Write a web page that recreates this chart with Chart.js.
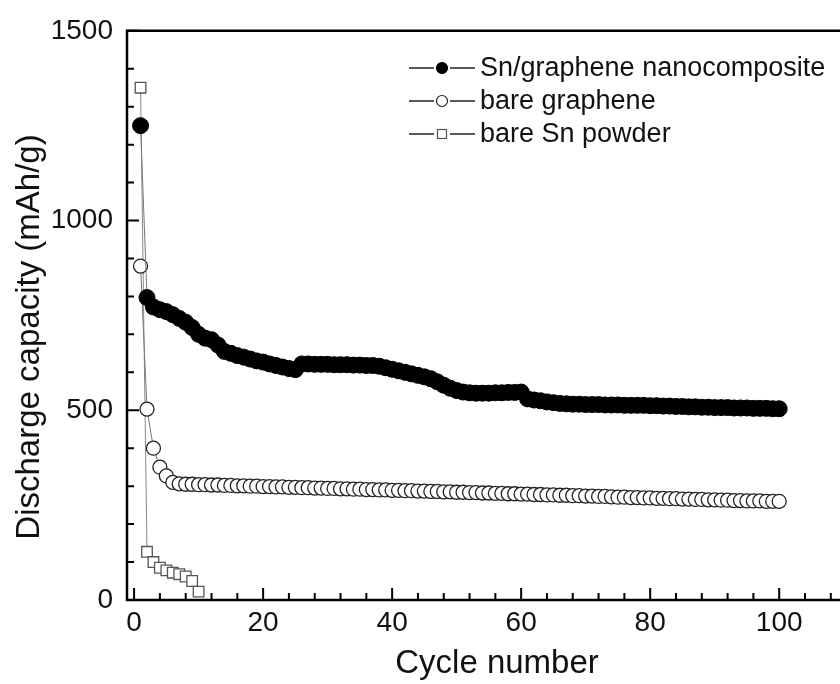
<!DOCTYPE html>
<html>
<head>
<meta charset="utf-8">
<script src="https://cdn.jsdelivr.net/npm/chart.js@4.4.1/dist/chart.umd.min.js"></script>
<style>
  html, body { margin: 0; padding: 0; background: #fff; overflow: hidden; width: 840px; height: 684px; }
  canvas { display: block; }
</style>
</head>
<body>
<canvas id="c" width="880" height="684"></canvas>
<script>
// ---------------- data ----------------
const seriesNames = ['Sn/graphene nanocomposite', 'bare graphene', 'bare Sn powder'];
const xAxisTitle = 'Cycle number';
const yAxisTitle = 'Discharge capacity (mAh/g)';

const cycles = [1,2,3,4,5,6,7,8,9,10,11,12,13,14,15,16,17,18,19,20,
  21,22,23,24,25,26,27,28,29,30,31,32,33,34,35,36,37,38,39,40,
  41,42,43,44,45,46,47,48,49,50,51,52,53,54,55,56,57,58,59,60,
  61,62,63,64,65,66,67,68,69,70,71,72,73,74,75,76,77,78,79,80,
  81,82,83,84,85,86,87,88,89,90,91,92,93,94,95,96,97,98,99,100];

const snGrapheneCapacity = [1250,797,772,765,760,752,742,732,718,700,
  690,686,672,655,650,644,640,635,630,627,
  622,618,614,610,607,622,622,621,621,621,
  620,620,620,619,619,618,618,616,612,608,
  604,600,596,592,588,583,575,566,558,552,
  548,546,545,545,545,546,546,547,547,548,
  530,527,525,522,520,518,517,516,516,515,
  515,515,514,514,514,513,513,513,513,512,
  512,511,511,510,510,509,509,508,508,507,
  507,507,506,506,506,505,505,505,504,504];

const bareGrapheneCapacity = [880,503,400,350,327,310,306,305,305,304,
  304,303,303,302,302,301,301,300,300,299,
  299,298,298,297,297,296,296,295,295,294,
  294,293,293,292,292,291,291,290,290,289,
  289,288,288,287,287,286,286,285,285,284,
  284,283,283,282,282,281,281,280,280,279,
  279,278,278,277,277,276,276,275,275,274,
  274,273,273,272,271,271,270,270,269,269,
  268,268,267,267,266,266,265,265,264,264,
  263,263,262,262,261,261,261,260,260,260];

const snPowderCycles = [1,2,3,4,5,6,7,8,9,10];
const snPowderCapacity = [1350,127,100,85,78,72,68,62,50,22];

const xTickValues = [0,20,40,60,80,100];
const yTickValues = [0,500,1000,1500];
const xMinorTickValues = [0,4,8,12,16,20,24,28,32,36,40,44,48,52,56,60,64,68,72,76,80,84,88,92,96,100,104,108];
const yMinorTickValues = [0,100,200,300,400,500,600,700,800,900,1000,1100,1200,1300,1400,1500];

// ---------------- chart ----------------
const FONT = '"Liberation Sans", Arial, Helvetica, sans-serif';
const toXY = (xs, ys) => xs.map((v, i) => ({x: v, y: ys[i]}));

const framePlugin = {
  id: 'frameAndDecor',
  afterDraw(chart) {
    const {ctx, chartArea: a, scales} = chart;
    const xs = scales.x, ys = scales.y;
    ctx.save();
    // frame
    ctx.strokeStyle = '#000';
    ctx.lineWidth = 2.5;
    ctx.beginPath();
    ctx.moveTo(a.right + 5, a.top);
    ctx.lineTo(a.left, a.top);
    ctx.lineTo(a.left, a.bottom);
    ctx.lineTo(a.right + 5, a.bottom);
    ctx.stroke();
    // inward ticks
    ctx.lineWidth = 2;
    ctx.strokeStyle = '#000';
    ctx.beginPath();
    for (const v of xMinorTickValues) {
      const px = xs.getPixelForValue(v);
      const len = xTickValues.includes(v) ? 12 : 7;
      ctx.moveTo(px, a.bottom);
      ctx.lineTo(px, a.bottom - len);
    }
    for (const v of yMinorTickValues) {
      const py = ys.getPixelForValue(v);
      const len = yTickValues.includes(v) ? 12 : 7;
      ctx.moveTo(a.left, py);
      ctx.lineTo(a.left + len, py);
    }
    ctx.stroke();

    // axis titles
    ctx.fillStyle = '#111';
    ctx.font = '33px ' + FONT;
    ctx.textAlign = 'center';
    ctx.textBaseline = 'middle';
    ctx.fillText(xAxisTitle, 497, 664);
    ctx.save();
    ctx.translate(30, 337);
    ctx.rotate(-Math.PI / 2);
    ctx.fillText(yAxisTitle, 0, 0);
    ctx.restore();

    // legend
    const rows = [68, 101, 134];
    const styles = chart.data.datasets;
    ctx.font = '27px ' + FONT;
    ctx.textAlign = 'left';
    rows.forEach((ry, i) => {
      ctx.strokeStyle = '#222';
      ctx.lineWidth = 1.5;
      ctx.beginPath();
      ctx.moveTo(409, ry); ctx.lineTo(434, ry);
      ctx.moveTo(450, ry); ctx.lineTo(475, ry);
      ctx.stroke();
      const ds = styles[i];
      ctx.fillStyle = ds.pointBackgroundColor;
      ctx.strokeStyle = ds.pointBorderColor;
      ctx.lineWidth = 1.2;
      if (ds.pointStyle === 'rect') {
        ctx.fillRect(437.5, ry - 4.5, 9, 9);
        ctx.strokeRect(437.5, ry - 4.5, 9, 9);
      } else {
        ctx.beginPath();
        ctx.arc(442, ry, 5.5, 0, Math.PI * 2);
        ctx.fill(); ctx.stroke();
      }
      ctx.fillStyle = '#111';
      ctx.fillText(seriesNames[i], 480, ry + 1);
    });
    ctx.restore();
  }
};

new Chart(document.getElementById('c'), {
  type: 'line',
  data: {
    datasets: [
      {
        label: seriesNames[0],
        data: toXY(cycles, snGrapheneCapacity),
        borderColor: '#777', borderWidth: 1,
        pointStyle: 'circle', pointRadius: 8,
        pointBackgroundColor: '#000', pointBorderColor: '#000', pointBorderWidth: 1,
        tension: 0, fill: false
      },
      {
        label: seriesNames[1],
        data: toXY(cycles, bareGrapheneCapacity),
        borderColor: '#777', borderWidth: 1,
        pointStyle: 'circle', pointRadius: 7,
        pointBackgroundColor: '#fff', pointBorderColor: '#222', pointBorderWidth: 1.3,
        tension: 0, fill: false
      },
      {
        label: seriesNames[2],
        data: toXY(snPowderCycles, snPowderCapacity),
        borderColor: '#888', borderWidth: 1,
        pointStyle: 'rect', pointRadius: 7.5,
        pointBackgroundColor: '#fff', pointBorderColor: '#555', pointBorderWidth: 1.3,
        tension: 0, fill: false
      }
    ]
  },
  options: {
    responsive: false,
    animation: false,
    devicePixelRatio: 1,
    layout: { padding: { left: 0, top: 20, right: 35, bottom: 0 } },
    plugins: { legend: { display: false }, tooltip: { enabled: false } },
    scales: {
      x: {
        type: 'linear',
        min: -1.1, max: 110.2,
        afterBuildTicks: s => { s.ticks = xTickValues.map(v => ({value: v})); },
        afterFit: s => { s.height = 84; },
        grid: { display: false, drawTicks: false },
        border: { display: false },
        ticks: { font: { family: FONT, size: 28 }, color: '#111', padding: 6, maxRotation: 0, autoSkip: false,
                 callback: v => String(v) }
      },
      y: {
        type: 'linear',
        min: 0, max: 1500,
        afterBuildTicks: s => { s.ticks = yTickValues.map(v => ({value: v})); },
        afterFit: s => { s.width = 127; },
        grid: { display: false, drawTicks: false },
        border: { display: false },
        ticks: { font: { family: FONT, size: 28 }, color: '#111', padding: 14, autoSkip: false,
                 callback: v => String(v) }
      }
    }
  },
  plugins: [framePlugin]
});
</script>
</body>
</html>
